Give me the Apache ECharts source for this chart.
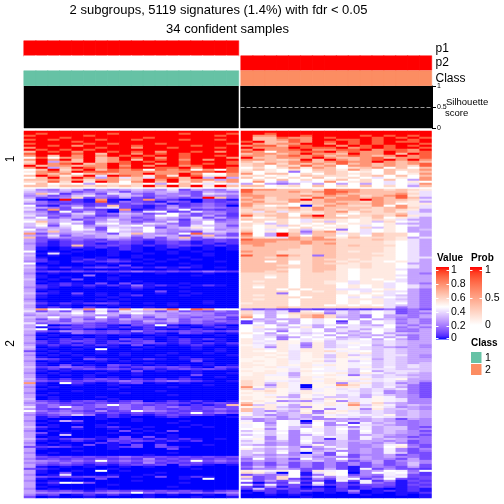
<!DOCTYPE html>
<html><head><meta charset="utf-8">
<style>html,body{margin:0;padding:0;background:#fff}#c{width:504px;height:504px}</style>
<script src="https://cdn.jsdelivr.net/npm/echarts@6/dist/echarts.min.js"></script>
</head><body><div id="c"></div>
<script>
const cluster1Left = ["aaaaaaaaaaaaaaaaaa","a9aaaaa9aaaaa9aaa9","9aaaa9aaaaaaaaaa9a","aaa9aaaaaa9aaaaaaa","9a9aaa9aa9aaa9aa9a","aaaa9aaaaaaaaaaaaa","9aaaa9a9aaa9aaaaa9","aa9a8aaaa9aaaa9aaa","8aaaaa9aa8aa9aaa9a","a9a9a9aaaaaaaaaaaa","7a9a8aa9a9a8aa9a8a","9aaa9a7aa8a9a9aaaa","8a7a8a8a9a9aa9aa9a","w9w88a78a9a8a9aaa8","8a8a7a78a7a9a8a8aa","6a387a789a9aa9aaa9","7a89a78a9aa8a9a9a9","a788788a8a8aa89aaa","8a37a98a9aa99a8aa9","w7a68a7989w989w8w9","5897a99988888899a9","w878w78788a88a8ww8","7a857a4a98595a9558","w7a7a838474997a3a3","7787868867a8a78838","6696a5a8w8a7a68578","w7w5w3w5w6w3w7w4w4","7757767676a7a7a5a7"];
const cluster1Right = ["aaaaaaaaaaaaaaaa","aa9aaaaaaaaaaaaa","a88aa9aaaa9a9a9a","a77988a9aaa9a9a9","a77898aa99a9aa9a","9a7798a9a9a9a99a","a8788aa8a9a9aaa9","899799aa8a9a9a9a","a888a999a89a9aa9","8a889a8899a8998a","98w8899a8988a989","78878a887a88a7a9","8878989789878a89","a77888a877897889","88767a7a8789a8a8","75778978988a8787","6786878797878789","67w76978w8878769","w6w68587w678w7w7","575w6w77586w7668","6w5w2w676w5w7w67","8w77w6w7656w7w58","56w5w7666w67w7w7","7w6w6w7w56w4w5w8","w6w7w6w57w6w7w38","w8w3w4w8w56w4w5w","3w323w3w3w3w4w48","77w56w7w6w7w6w37"];
const cluster2Left = ["4d2e3c3d3e3d4c3d2e","e3d3c2d3c3d3e2c3d2","3741d3c4e2c3d2c4e3","d3c2e4d2e3c2d3c3d2","3c2d6c2c3c1d2c2a72","4b0a1b8b0c8c1b0c1b","e21c1b9b2c1b2c0c1c","d2c1c1c1c2c2b1c2c1","w1b2d1c7c1b1d1c2c0","e32c42e4c1bc3c2d2c","4c8c2c1b8b1c2w1c1c","3d1wc3c0dc4w1c4d2c","e3c2e4c2e3c2w3c2d1","4d2c3d1c3d2ww2c3c1","3wcd3c2d3c2e3d4c3c","4e3ec2d4d2c3d1e3c2","w73e4c3e3c2d4c3w2d","e5dw3c4w3d4e2c3w3d","ewc4wd3e4w3d3c4e3c","3e3ew3c4e3wc3e5w3d","wde3w4cw4ew3d3e4d3","e373e3dwe3w3d2c4e3","8c3d3e3c473d2w9d3c","3d4c3d3e4d3e3c372c","7c3d2d3e3c3c37c3e3","3c1c2c1d2c1cd3c1c1","3cb1c1c1c1b1c1b1c1","d1b1c1b1c1b1c1b1b1","31b1711c1b1b1c1b1b","3b0b1b1b1b0b1b0b0b","3b0b0b0b1b0b0b0b0b","w0b0b00b0b00b0b000","3b4b000b00b0b00b00","e0b0000b0b00000b00","3b00b0b00b000b0000","3100b1b1b0b0b0b000","d1b01b1c1b0b0000b0","w0b00b0b00b00b0000","3b0000b0c00000b000","e1b1b1c1b1b1b1b0b0","3b00b000b000b00000","31c1c1c1c2c1c1c2c1","d0b0000b000b000b00","3b000200b00000b000","3b0b000b0000000000","e0b0c00b0000000000","3b0000000b00000000","30b1b0c0c0b00b0000","31b1b1b1b2b1b0b1b0","d1b00b00b1b00b0000","3b0000000b00000000","30b00000000c0b0000","e1b0c0b0b00b00b000","3b00b0b0b1000b0000","3b00000b0000000000","d00000b0b000000000","3b00b00b0000000b00","e1b1b1c1b0b0b00b00","3b0b000b0000b00000","3b1b01b0b0b0000000","e8ww38w38w779w98ww","4c3c4c4c4e3c3c2c2c","3e3ew3w3ewe3d3ddcc","d3d3e3d3c3d3d2d2c2","e3w3d2w2c3c3d2c2d1","3c3c3cdc3d2c3cd2c1","3d2c3d2c2c3d3c2c2c","4c2d2c1c2c2c2c2c1c","3w0b1c1b0c1wb0b1b0","3b1c1c1b1b1b1b0b1b","ew0b1b0b0b1b0b1b0b","3c1d2c1c1d1c1c1c1c","3b0b2c1c1b1b0c1b0b","d0b000b0b00b0000b0","3b00b0b000b0b00000","30b1b1b0c1b0b1b1b0","31b1c1b1b1c0b1b0b0","d1b1b1b1c1c1b1b1b1","3b1b1b1b0c0b0b1b0b","e0b00b0b00b000b000","3b00b0w00b0000b0b0","c0b000b000000000b0","3b0b00b0b000b00b00","d0b0b000b00b00000b","3b000b0000000b0000","3c1b0c1b0b1b0b1b00","d0b000b0b00000c000","3b00b00000b0000b00","3b0c0b0c1b0b0b0b0b","e1c2c1b1b1c1c1b0c1","3b1b1c1c1b1b1c1c1b","3b0b000b0c0b00b000","d0b000b00b0000b00b","3b0b0b000b0000c000","3b000b0b00000b00b0","e1b1b1c1b1b1b1b000","3c1c1c1c2c1c2c1b0b","8b0w1b0b1c0b0b0000","3b00b00b0000000b00","d0b00000b000b00000","3b00000b0000000000","3000b000000b000000","d0b00000b000000000","3b0000000000b00000","30b000b00000000000","e0b0000b0000000000","3c1b1c1b1c0b1b1b0b","d2c1c1c1c2c1c1b1c1","3c2c1c2w2c1c1b1b17","4c2w2c2c2c2c2c1c1c","3c1c2c1c2c2c1c1c2c","w2c2c1d1cwd2c1c1c1","3c2d2c1c1c1c1cwc2c","d1c2e2b1b1b1c1c1b0","3b1b00b1b00b1b000b","3b0000b00b00000000","d0b3c0000b000b0000","3b00b00b0000b00000","30b000b0000000b000","e1b0c0b1b0b00b0b00","3b00b00b0b00000000","d0b00000c0b0c00000","3c0b000b0b0b000000","3b0e00000000b00000","30b000b0c0c0b00000","e1b1c1b1c1b1b1b0b0","3b0b1b0c1c1b1b1000","d0b0001b1b0b000000","3b0b0c0b0c0c000b00","c1c1b00b1c0c1b0000","3b00000b0000c00000","3000b0000000000000","d0b000000000b00000","3b00000000b0000000","3c1c1c1c2c1c1c1c1c","d1c1c1c1c1d1c1c1c1","3d2c2cwc2c2c1cwc2c","d2c2c1c1c1d1c1c1c1","3c1c1b1b1c1c0c1b0b","3b0b0b00b0b00b0000","c1b0000b000000b000","3b00b0w0b000000000","3b0c0000000b000000","d0b4000b00b0000000","3c1c1c1c0b0c0b1b00","3b00b0c000000b0w00","d0b000000b00000000","3b1w4c0000000b0000","30b0000b0000000000","3b0000000000b00000","d0b000b00000000000","3c1c1b1c1c1c1c1b1c","3d2d2c2d2w2c2c2c2d","d1c0b1b1b0b0b00b0c","c0b00b0000b000b00b"];
const cluster2Right = ["9887776988776765","9777878998777754","8777767987777864","8877787878678954","7867769788787973","87678a7888a87764","7866867877687653","8777w67787787w55","86w5w0687668w854","7667868777767864","6766768767667653","6474656785767543","7667w6576w666744","9677w8a7w6676854","6w5767877657w543","7666w4565w565433","w6w6w46e5w5e6w43","65e6w5w6w55w5e33","6w5e6w5w5w4w5w43","5w55w6w55w6e5w33","6w4w6e5w2w4w5w3e","7w5w62785w4w5w33","9w3a7377464766w3","8w3a7w77w6w766w3","7654878657666534","9888878866676543","8887787766665w43","8877787866665w43","7877767767666w43","7777767766665w43","7777667766665w43","8776667765665w43","7776667766655w43","9779762766665w43","7767667766655w44","7777667665655w43","77w7w6775655w543","7777w67665655w33","7776667755655w43","7777667755655w43","7776w6775w555433","7767w6765w555w33","6666w6665w555w32","6656w6665w555433","66w6w6665w555w33","6666w6665w5w5433","6566w6655455w433","6666w665w4554w32","6566w666w5w54w43","6w66w666w5w54w43","666w6w66444w5w32","6666w6565w454432","6662w6665w5w4w32","6566w666w5w54e32","66666w66w4w4w432","6566w666w5554e32","6666w666w5w54432","5666w666w5w54w32","6666w66w5w5w4e32","6667666666664232","2c2c1c1c1c1c2c2c","6434c5w3434w4c23","64346662434w4c22","7w3w5786e32w3323","8w3w5786332w3d23","w3e33w4ww3w3e232","1e3w3w4w1w3w4d32","1w3e3w4w2w3w4232","w4w3w434w4e3w323","w5w4e53w3444w232","w4e3w4w3443w4d23","w4w2w4w3434w4223","5w3w4e4w3e3w3e33","w4e3w4w3w3e34d23","w4423w4w3e3w3423","54w2w4w4e4w3w323","5f45g4gefffe4e33","54f5gd5efgfe4e33","gfe5f25e4fw34e3d","5fd5fd5e4w4e3d3d","55f5f55fgf4e4e33","5gw54556fgwe4e33","555g4g5f5f5e4e33","55g54g5e5e4e443d","5g5g4g5e5gfe4e3d","ggg54gg4gfg34e33","g5g5fg5egefe4e33","5gg5f5gfgfwe4e3e","55g5g5f5gffe4e4e","5g5ff5gfgfgefe4e","gggg4gwfgef44eee","5g5g45fffew3444e","g55f3gwg5e5fe4e3","g5ff3gg5f24e4e33","55gge5fgggfe44e3","55ggf5g5gf54fg33","65ff45f554f4fe3d","65e5f5g5d55e4d3c","65d5f0gg86fe4e2c","8ge5f0gf55fef32c","6e5gfdfg4fe4e42c","g56gf5fgf4e4d32c","5g5g45ggffefd32c","ggfg3g4gef34e3dc","5g5e3gfee43gf3dc","5ggg45e5g4fgf4dd","g5gd3d4gd4fgf4dd","7g4g45f5g7f6e3dd","8e5f35g5f8e5f3e3","g55e3dgff54g4d3d","7e54e5gdf5d5ee3d","7ede3g2g54e4e3e3","fe43e5d5gfe4e3e3","ged3e34f4ff4g3e3","e4ede3dgf4ef4ee3","3d3d3edd3d3e3c3d","fd3wf0ge3e3e3d2d","gwdwf1wdw1f3ed2d","fw3wfewd3w4e3d2d","fwewe3gefdf3ee2c","wgdwewfewef3ee2d","efefdwfefdw3e3dc","fwewdfwefdf3e3d2","efefd3fe4d3e3ddc","wfdfdfef4dfeddc2","fgdfdfe14df3e3d2","ef3edwe3e333d3c2","4fd3dfd3ed3dedc2","e3d3deg3edd3fg2c","wfef3c3fedd3w5dc","ge3e3gd3fd3dfdcd","ee3f3f3edd3dfdc2","ef3wd0ecwd3dfecc","e3d3de3cfcdd3c2c","3e3e3ed3dc3d3d2c","2wd3cw3dwd3ddc3c","d3d3d3ed3cd3cd3d","cdc3cdcdcdc3c2ed","cdcdcdcdcdcdc2ec","2e2ecdcdcbcd2c3c","cdd3dcc3cbfcdcc1","5gf5wc5fwbd3wf2w","65e0wb4gw0dwfwd1","cd2dwb2gwcd2f4c1","6c26wc4d4d2c4fcc","3c26cbdc4w1dwc1c","wc3cd1cbfcf1dbc1","c0c1fbfbcbf2cb1c","wcfcc1e1c1cccbc1","cbdbc0b0cb1c1b1c","1e1c1b1b1b1b0b1b","0c1b1c1b1d0b1b1b","b01b1b0b0c0b0bb1","00b0b00000b00b0b","00000b000000000b"];
const cellLevels = {'0':0,b:0.02,'1':0.06,c:0.1,'2':0.17,d:0.21,'3':0.27,e:0.33,'4':0.39,f:0.42,w:0.45,g:0.48,'5':0.51,'6':0.56,'7':0.63,'8':0.75,'9':0.88,a:1};

const leftSamples = 18, rightSamples = 16;
const p1Values = [1, 0];
const p2Values = [0, 1];
const classValues = [1, 2];
const silhouetteValue = 1;
const valueTicks = [1, 0.8, 0.6, 0.4, 0.2, 0];
const probTicks = [1, 0.5, 0];
const classLegend = [1, 2];
const titleLines = ["2 subgroups, 5119 signatures (1.4%) with fdr < 0.05", "34 confident samples"];

// colours: blue - white - red, mixed in CIE LAB like the source
function toLab(c){const f=v=>{v/=255;return v>0.04045?Math.pow((v+0.055)/1.055,2.4):v/12.92};
 const r=f(c[0]),g=f(c[1]),b=f(c[2]);
 const X=(0.4124*r+0.3576*g+0.1805*b)/0.9505,Y=0.2126*r+0.7152*g+0.0722*b,Z=(0.0193*r+0.1192*g+0.9505*b)/1.089;
 const h=t=>t>0.008856?Math.cbrt(t):7.787*t+16/116;
 return [116*h(Y)-16,500*(h(X)-h(Y)),200*(h(Y)-h(Z))];}
function fromLab(l){const fy=(l[0]+16)/116,fx=fy+l[1]/500,fz=fy-l[2]/200;
 const h=t=>t*t*t>0.008856?t*t*t:(t-16/116)/7.787;
 const X=h(fx)*0.9505,Y=h(fy),Z=h(fz)*1.089;
 const g=v=>{v=Math.max(0,Math.min(1,v));return Math.round(255*(v>0.0031308?1.055*Math.pow(v,1/2.4)-0.055:12.92*v))};
 return 'rgb('+g(3.2406*X-1.5372*Y-0.4986*Z)+','+g(-0.9689*X+1.8758*Y+0.0415*Z)+','+g(0.0557*X-0.204*Y+1.057*Z)+')';}
function mix(a,b,t){const A=toLab(a),B=toLab(b);return fromLab([0,1,2].map(i=>A[i]+(B[i]-A[i])*t));}
const BLUE=[0,0,255],WHITE=[255,255,255],RED=[255,0,0];
const valueStops=[];for(let i=0;i<=20;i++){valueStops.push(i<=9?mix(BLUE,WHITE,i/9):mix(WHITE,RED,(i-9)/11));}
const probStops=[];for(let i=0;i<=10;i++){probStops.push(mix(WHITE,RED,i/10));}
const CLASS_COLORS={1:'#66C2A5',2:'#FC8D62'};
const FONT='"Liberation Sans",Helvetica,Arial,sans-serif';

const grids=[],xAxes=[],yAxes=[],series=[],heatIndex=[];
function addGrid(x,y,w,h,xa,ya){const i=grids.length;
 grids.push({left:x,top:y,width:w,height:h,containLabel:false,show:false,outerBoundsMode:'none'});
 xAxes.push(Object.assign({gridIndex:i,type:'category',show:false,boundaryGap:true},xa));
 yAxes.push(Object.assign({gridIndex:i,type:'category',inverse:true,boundaryGap:true,
   axisLine:{show:false},axisTick:{show:false},axisLabel:{show:false},splitLine:{show:false}},ya));
 return i;}
function addHeat(rows,x,y,w,h,name){
 const n=rows[0].length,d=[];
 rows.forEach((r,ri)=>{for(let c=0;c<r.length;c++)d.push([c,ri,cellLevels[r[c]]]);});
 const i=addGrid(x,y,w,h,{data:Array.from({length:n},(_,k)=>k)},{data:rows.map((_,k)=>k),name:name||'',nameLocation:'middle',nameRotate:90,nameGap:7,nameTextStyle:{fontSize:12,fontFamily:FONT,color:'#000'}});
 heatIndex.push(series.length);
 series.push({type:'heatmap',xAxisIndex:i,yAxisIndex:i,data:d,progressive:0,animation:false,silent:true});
}
addHeat(cluster1Left,24,131,214.5,56,'1');
addHeat(cluster1Right,241,131,190.5,56);
addHeat(cluster2Left,24,189,214.5,309,'2');
addHeat(cluster2Right,241,189,190.5,309);

function addAnn(n,x,w,y,h,colour,label){
 const i=addGrid(x,y,w,h,{data:Array.from({length:n},(_,k)=>k)},label?{position:'right',data:[label],axisLabel:{show:true,margin:4,fontSize:12,fontFamily:FONT,color:'#000'}}:{data:['a']});
 const d=[];for(let k=0;k<n;k++)d.push({value:[k,0,1],itemStyle:{color:colour,borderColor:colour,borderWidth:0.5}});
 series.push({type:'heatmap',xAxisIndex:i,yAxisIndex:i,data:d,progressive:0,animation:false,silent:true});
}
const pc=v=>v?'#FF0000':'#FFFFFF';
addAnn(leftSamples,24,214.5,41,15,pc(p1Values[0]));
addAnn(rightSamples,241,190.5,41,15,pc(p1Values[1]),'p1');
addAnn(leftSamples,24,214.5,56,14,pc(p2Values[0]));
addAnn(rightSamples,241,190.5,56,14,pc(p2Values[1]),'p2');
addAnn(leftSamples,24,214.5,71,14.5,CLASS_COLORS[classValues[0]]);
addAnn(rightSamples,241,190.5,71,14.5,CLASS_COLORS[classValues[1]],'Class');

function addSil(n,x,w,withAxis){
 const i=grids.length;
 grids.push({left:x,top:86,width:w,height:42,show:true,borderColor:'#888',borderWidth:1,backgroundColor:'#fff',outerBoundsMode:'none'});
 xAxes.push({gridIndex:i,type:'category',data:Array.from({length:n},(_,k)=>k),show:false});
 yAxes.push({gridIndex:i,type:'value',min:0,max:1,interval:0.5,position:'right',show:withAxis,
   axisLine:{show:true,lineStyle:{color:'#000',width:1}},axisTick:{show:true,length:4,lineStyle:{color:'#000'}},
   axisLabel:{show:true,fontSize:7,margin:5,fontFamily:FONT,color:'#000',formatter:v=>String(v)},splitLine:{show:false}});
 const s={type:'bar',xAxisIndex:i,yAxisIndex:i,data:Array.from({length:n},()=>silhouetteValue),barWidth:'125%',
   itemStyle:{color:'#000'},animation:false,silent:true,clip:true};
 if(withAxis)s.markLine={silent:true,symbol:'none',animation:false,label:{show:false},lineStyle:{color:'#999',type:'dashed',width:1},data:[{yAxis:0.5}]};
 series.push(s);
}
addSil(leftSamples,24,214.5,false);
addSil(rightSamples,240.5,191.5,true);

const T=(x,y,text,size,bold,align)=>({type:'text',x:x,y:y,silent:true,style:{text:text,fill:'#000',font:(bold?'bold ':'')+size+'px '+FONT,align:align||'left',verticalAlign:'middle'}});
const g=[];
g.push(T(218.5,10.5,titleLines[0],13,false,'center'));
g.push(T(227.5,29.5,titleLines[1],13,false,'center'));
g.push(T(446,102,'Silhouette',9.5));
g.push(T(445,113,'score',9.5));
// Value legend
const vTop=267,vH=72.5,vX=436,vW=13;
const grad=(stops)=>({type:'linear',x:0,y:1,x2:0,y2:0,colorStops:stops.map((c,i)=>({offset:i/(stops.length-1),color:c}))});
g.push(T(437,258,'Value',10,true));
g.push({type:'rect',silent:true,shape:{x:vX,y:vTop,width:vW,height:vH},style:{fill:grad(valueStops)}});
const vY=[270,284,298,312,326,338];
valueTicks.forEach((t,i)=>{
 g.push(T(451,vY[i],String(t),10.5));
 g.push({type:'line',silent:true,shape:{x1:vX,y1:vY[i]+.5,x2:vX+2.5,y2:vY[i]+.5},style:{stroke:'#fff',lineWidth:1}});
 g.push({type:'line',silent:true,shape:{x1:vX+vW-2.5,y1:vY[i]+.5,x2:vX+vW,y2:vY[i]+.5},style:{stroke:'#fff',lineWidth:1}});
});
// Prob legend
const pX=470,pW=12,pH=58;
g.push(T(471,258,'Prob',10,true));
g.push({type:'rect',silent:true,shape:{x:pX,y:vTop,width:pW,height:pH},style:{fill:grad(probStops)}});
const pY=[270,298,325];
probTicks.forEach((t,i)=>{
 g.push(T(485,pY[i],String(t),10.5));
 g.push({type:'line',silent:true,shape:{x1:pX,y1:pY[i]+.5,x2:pX+2.5,y2:pY[i]+.5},style:{stroke:'#fff',lineWidth:1}});
 g.push({type:'line',silent:true,shape:{x1:pX+pW-2.5,y1:pY[i]+.5,x2:pX+pW,y2:pY[i]+.5},style:{stroke:'#fff',lineWidth:1}});
});
// Class legend
g.push(T(471,343,'Class',10,true));
classLegend.forEach((c,i)=>{
 g.push({type:'rect',silent:true,shape:{x:471,y:352+i*12,width:10.5,height:11},style:{fill:CLASS_COLORS[c]}});
 g.push(T(485,358+i*12,String(c),10.5));
});

const chart=echarts.init(document.getElementById('c'),null,{renderer:'canvas',width:504,height:504});
chart.setOption({animation:false,backgroundColor:'#fff',grid:grids,xAxis:xAxes,yAxis:yAxes,series:series,graphic:{elements:g},
 tooltip:{show:false},
 visualMap:{show:false,type:'continuous',min:0,max:1,seriesIndex:heatIndex,inRange:{color:valueStops}}});
</script></body></html>
